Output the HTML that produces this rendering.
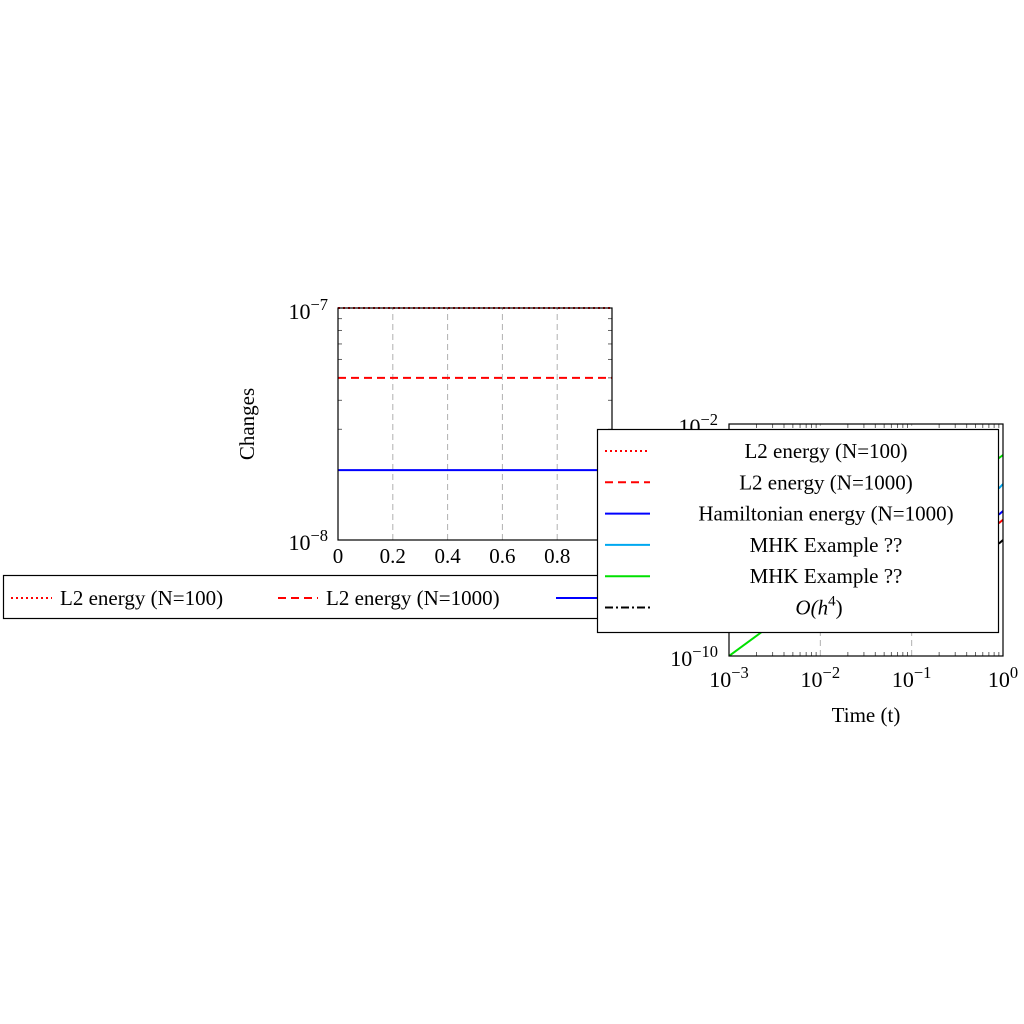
<!DOCTYPE html>
<html><head><meta charset="utf-8"><style>
html,body{margin:0;padding:0;background:#fff}
svg{display:block}
text{font-family:"Liberation Serif",serif;fill:#000}
</style></head><body>
<svg id="c" width="1024" height="1024" viewBox="0 0 1024 1024" xmlns="http://www.w3.org/2000/svg"></svg>
<script>
// Left plot data (constant changes over time)
const leftNames = ["L2 energy (N=100)", "L2 energy (N=1000)", "Hamiltonian energy (N=1000)"];
const leftValues = [1e-7, 5e-8, 2e-8];
const leftXTicks = [0, 0.2, 0.4, 0.6, 0.8];
// Right plot data (log-log)
const greenX = [1e-3, 1];
const greenY = [1e-10, 8.5e-4];
const otherX = [0.9, 1];
const cyanY = [6e-5, 8.5e-5];
const blueY = [7.5e-6, 1e-5];
const redY = [3.8e-6, 5e-6];
const blackY = [7.5e-7, 1e-6];
const rightXTicks = [-3, -2, -1, 0];

const NS = "http://www.w3.org/2000/svg";
const svg = document.getElementById("c");
function el(tag, attrs, parent) {
  const e = document.createElementNS(NS, tag);
  for (const k in attrs) e.setAttribute(k, attrs[k]);
  (parent || svg).appendChild(e);
  return e;
}
function txt(x, y, s, size, anchor, parent, sup) {
  const t = el("text", {x: x, y: y, "font-size": size, "text-anchor": anchor || "middle"}, parent);
  t.textContent = s;
  if (sup) {
    const ts = document.createElementNS(NS, "tspan");
    ts.setAttribute("dy", -9);
    ts.setAttribute("font-size", size * 0.75);
    ts.textContent = sup;
    t.appendChild(ts);
  }
  return t;
}

// ---------- Left plot ----------
const L = {x0: 338, x1: 612, y0: 540, y1: 308};
const lx = v => L.x0 + v * (L.x1 - L.x0);
const ly = v => L.y0 - (Math.log10(v) + 8) * (L.y0 - L.y1);
const gL = el("g", {});


leftXTicks.forEach(v => {
  if (v > 0) el("line", {x1: lx(v), x2: lx(v), y1: L.y0, y2: L.y1, stroke: "#b0b0b0", "stroke-dasharray": "6 4"}, gL);
  const t = txt(lx(v), 563, String(v), 21, "middle", gL);
  
  
});
for (let m = 2; m <= 9; m++) {
  const y = ly(m * 1e-8);
  el("line", {x1: L.x0, x2: L.x0 + 4, y1: y, y2: y, stroke: "#666"}, gL);
  el("line", {x1: L.x1, x2: L.x1 - 4, y1: y, y2: y, stroke: "#666"}, gL);
}
const styles = [{s: "#f00", d: "2 3"}, {s: "#f00", d: "8 5"}, {s: "#00f", d: ""}];
leftValues.forEach((v, i) => {
  const ln = el("line", {x1: L.x0, x2: L.x1, y1: ly(v), y2: ly(v), stroke: styles[i].s, "stroke-width": 2, "stroke-dasharray": styles[i].d}, gL);
  
  
});
el("rect", {x: L.x0, y: L.y1, width: L.x1 - L.x0, height: L.y0 - L.y1, fill: "none", stroke: "#000", "stroke-width": 1.2}, gL);
txt(328, 319, "10", 22, "end", gL, "−7");
txt(328, 550, "10", 22, "end", gL, "−8");
const ylab = txt(0, 0, "Changes", 21, "middle", gL);
ylab.setAttribute("transform", "translate(254,424) rotate(-90)");



// ---------- Bottom legend ----------
const gB = el("g", {});


el("rect", {x: 3.5, y: 575.5, width: 600, height: 43, fill: "#fff", stroke: "#000", "stroke-width": 1.2}, gB);
el("line", {x1: 11, x2: 52, y1: 598, y2: 598, stroke: "#f00", "stroke-width": 2, "stroke-dasharray": "2 3"}, gB);
txt(60, 605, "L2 energy (N=100)", 21, "start", gB);
el("line", {x1: 278, x2: 318, y1: 598, y2: 598, stroke: "#f00", "stroke-width": 2, "stroke-dasharray": "8 5"}, gB);
txt(326, 605, "L2 energy (N=1000)", 21, "start", gB);
el("line", {x1: 556, x2: 600, y1: 598, y2: 598, stroke: "#00f", "stroke-width": 2}, gB);

// ---------- Right plot ----------
const R = {x0: 729, x1: 1003, y0: 656, y1: 424};
const rx = v => R.x0 + (Math.log10(v) + 3) / 3 * (R.x1 - R.x0);
const ry = v => R.y0 - (Math.log10(v) + 10) / 8 * (R.y0 - R.y1);
const gR = el("g", {});


el("rect", {x: R.x0, y: R.y1, width: R.x1 - R.x0, height: R.y0 - R.y1, fill: "#fff"}, gR);
[-2, -1].forEach(e => el("line", {x1: rx(Math.pow(10, e)), x2: rx(Math.pow(10, e)), y1: R.y0, y2: R.y1, stroke: "#b0b0b0", "stroke-dasharray": "6 4"}, gR));
for (let e = -3; e < 0; e++) for (let m = 2; m <= 9; m++) {
  const x = rx(m * Math.pow(10, e));
  el("line", {x1: x, x2: x, y1: R.y0, y2: R.y0 - 4, stroke: "#666"}, gR);
  el("line", {x1: x, x2: x, y1: R.y1, y2: R.y1 + 4, stroke: "#666"}, gR);
}
const clip = el("clipPath", {id: "rc"}, gR);
el("rect", {x: R.x0, y: R.y1, width: R.x1 - R.x0, height: R.y0 - R.y1}, clip);
const rSeries = [[greenX, greenY, "#00e000"], [otherX, cyanY, "#00a8f0"], [otherX, blueY, "#00f"], [otherX, redY, "#f00"], [otherX, blackY, "#000"]];
rSeries.forEach(([xs, ys, c]) => {
  const pl = el("polyline", {points: xs.map((x, i) => rx(x) + "," + ry(ys[i])).join(" "), fill: "none", stroke: c, "stroke-width": 2, "clip-path": "url(#rc)"}, gR);
  
  
});
el("rect", {x: R.x0, y: R.y1, width: R.x1 - R.x0, height: R.y0 - R.y1, fill: "none", stroke: "#000", "stroke-width": 1.2}, gR);
rightXTicks.forEach(e => {
  const t = txt(rx(Math.pow(10, e)), 687, "10", 22, "middle", gR, String(e).replace("-", "−"));
  
  
});
txt(718, 434, "10", 22, "end", gR, "−2");
txt(718, 666, "10", 22, "end", gR, "−10");
const xlab = txt(866, 722, "Time (t)", 21, "middle", gR);



// ---------- Right legend ----------
const gRL = el("g", {});


el("rect", {x: 597.5, y: 429.5, width: 401, height: 203, fill: "#fff", stroke: "#000", "stroke-width": 1.2}, gRL);
const legItems = [["L2 energy (N=100)", "#f00", "2 3"], ["L2 energy (N=1000)", "#f00", "8 5"], ["Hamiltonian energy (N=1000)", "#00f", ""], ["MHK Example ??", "#00a8f0", ""], ["MHK Example ??", "#00e000", ""], ["O(h⁴)", "#000", "8 3 2 3"]];
legItems.forEach((it, i) => {
  const y = 451 + i * 31.3;
  el("line", {x1: 605, x2: 650, y1: y, y2: y, stroke: it[1], "stroke-width": 2, "stroke-dasharray": it[2]}, gRL);
  let t;
  if (i === 5) {
    t = txt(819, y + 7, "", 21, "middle", gRL);
    t.setAttribute("font-style", "italic");
    const a = document.createElementNS(NS, "tspan"); a.textContent = "O(h"; t.appendChild(a);
    const b = document.createElementNS(NS, "tspan"); b.setAttribute("dy", -9); b.setAttribute("font-size", 15); b.setAttribute("font-style", "normal"); b.textContent = "4"; t.appendChild(b);
    const c = document.createElementNS(NS, "tspan"); c.setAttribute("dy", 9); c.setAttribute("font-style", "normal"); c.textContent = ")"; t.appendChild(c);
  } else {
    t = txt(826, y + 7, it[0], 21, "middle", gRL);
  }
  
  
});
</script>
</body></html>
